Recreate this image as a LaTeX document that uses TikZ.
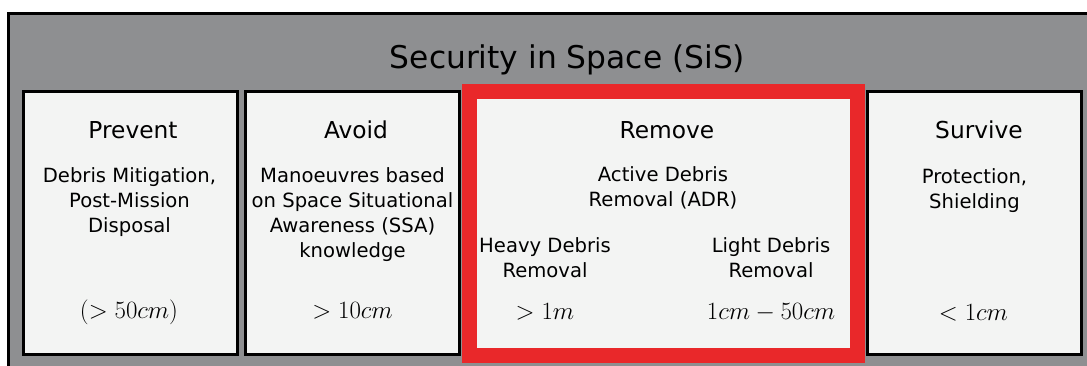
\documentclass[tikz,border=0pt]{standalone}
\usepackage{fontspec}
\setmainfont{DejaVu Sans}
\definecolor{sisgrey}{HTML}{8E8F91}
\definecolor{sislight}{HTML}{F3F4F3}
\definecolor{sisred}{HTML}{E9282A}
\newcommand{\mlines}[1]{\begin{tabular}[t]{@{}c@{}}#1\end{tabular}}
\tikzset{
  colbox/.style={draw=black, fill=sislight, line width=3pt, minimum width=214pt, minimum height=263pt, inner sep=0pt},
  redbox/.style={draw=sisred, fill=sislight, line width=15pt, minimum width=388pt, minimum height=264pt, inner sep=0pt},
  titletext/.style={inner sep=0pt, anchor=base, font=\fontsize{31.3}{36}\selectfont},
  headtext/.style={inner sep=0pt, anchor=base, font=\fontsize{23.3}{28}\selectfont},
  bodytext/.style={inner sep=0pt, anchor=base, font=\fontsize{19.6}{25}\selectfont},
  mathtext/.style={inner sep=0pt, anchor=base, font=\fontsize{24}{28}\selectfont},
}
\begin{document}
\begin{tikzpicture}[x=1pt, y=-1pt]
\useasboundingbox (0,0) rectangle (1087,365);
\fill[white] (0,0) rectangle (1087,365);
\clip (0,0) rectangle (1087,365);
\draw[line width=3pt, fill=sisgrey] (8.5,13.5) rectangle (1130,400);
\node[titletext] (title) at (567.5,68) {Security in Space (SiS)};

\node[colbox] (prevent) at (130.75,223) {};
\node[colbox] (avoid) at (352.5,223) {};
\node[colbox] (survive) at (974.5,223) {};
\node[redbox] (remove) at (663.5,223.5) {};

\node[headtext] (hprevent) at (133,138) {Prevent};
\node[headtext] (havoid) at (356,138) {Avoid};
\node[headtext] (hremove) at (667,138) {Remove};
\node[headtext] (hsurvive) at (979,138) {Survive};

\node[bodytext] (bprevent) at (129.5,182) {\mlines{Debris Mitigation,\\Post-Mission\\Disposal}};
\node[bodytext] (bavoid) at (352.5,182) {\mlines{Manoeuvres based\\on Space Situational\\Awareness (SSA)\\knowledge}};
\node[bodytext] (bremove) at (663,181) {\mlines{Active Debris\\Removal (ADR)}};
\node[bodytext] (bheavy) at (545,252) {\mlines{Heavy Debris\\Removal}};
\node[bodytext] (blight) at (771,252) {\mlines{Light Debris\\Removal}};
\node[bodytext] (bsurvive) at (974.5,183) {\mlines{Protection,\\Shielding}};

\node[mathtext] (mprevent) at (129,318) {$(>50cm)$};
\node[mathtext] (mavoid) at (352.5,318) {$>10cm$};
\node[mathtext] (mheavy) at (545,319) {$>1m$};
\node[mathtext] (mlight) at (771,319) {$1cm-50cm$};
\node[mathtext] (msurvive) at (973.5,320) {$<1cm$};
\end{tikzpicture}
\end{document}
